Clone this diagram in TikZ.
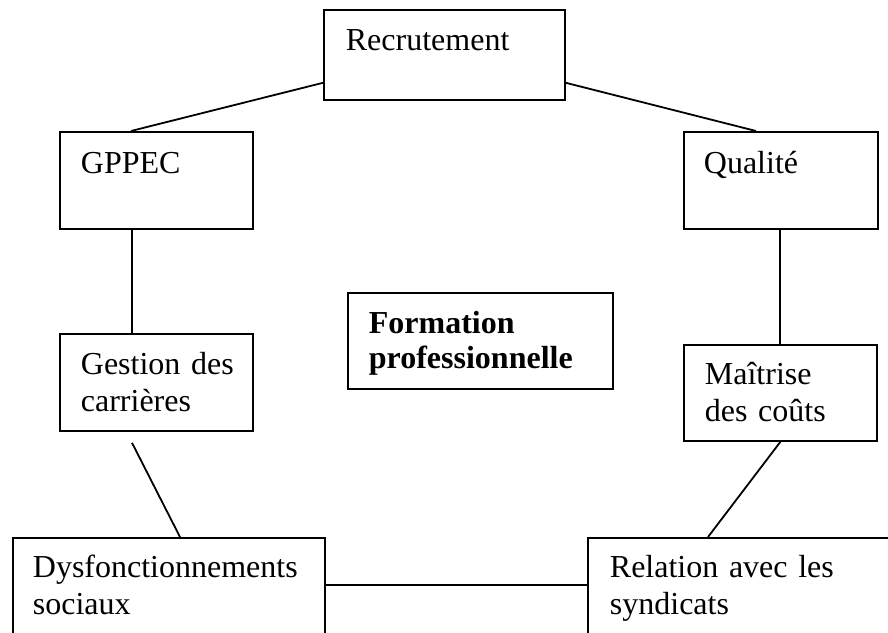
\documentclass[tikz,border=0pt]{standalone}
\usepackage{fontspec}
\setmainfont{Liberation Serif}
\usetikzlibrary{positioning}

\newcommand{\lignes}[1]{\begin{tabular}[t]{@{}l@{}}#1\end{tabular}}

\tikzset{
  box/.style={draw,line width=1.8pt,anchor=north west,inner ysep=0pt,
    font=\fontsize{32}{36.5}\selectfont},
  link/.style={line width=1.8pt}
}

\begin{document}
\begin{tikzpicture}[x=1pt,y=-1pt]
\useasboundingbox (0,0) rectangle (888,632);

\node[box,inner xsep=22pt,text width=197pt,text height=41pt,text depth=49pt] (recru) at (323,9) {\lignes{Recrutement}};
\node[box,inner xsep=21pt,text width=151pt,text height=42pt,text depth=55pt] (gppec) at (59,131) {\lignes{GPPEC}};
\node[box,inner xsep=20pt,text width=154pt,text height=42pt,text depth=55pt] (qual) at (683,131) {\lignes{Qualité}};
\node[box,inner xsep=21pt,text width=223pt,text height=41pt,text depth=55pt,
  font=\fontsize{32}{35}\selectfont\bfseries] (form) at (347,292) {\lignes{Formation\\professionnelle}};
\node[box,inner xsep=21pt,text width=151pt,text height=41pt,text depth=56pt] (gest) at (59,333) {\lignes{Gestion des\\carrières}};
\node[box,inner xsep=21pt,text width=151pt,text height=40pt,text depth=56pt] (maitr) at (683,344) {\lignes{Maîtrise\\des coûts}};
\node[box,inner xsep=20pt,text width=272pt,text height=40pt,text depth=70pt] (dysf) at (12,537) {\lignes{Dysfonctionnements\\sociaux}};
\node[box,inner xsep=22pt,text width=274pt,text height=40pt,text depth=70pt] (rel) at (587,537) {\lignes{Relation avec les\\syndicats}};

% liens
\draw[link] ([yshift=18pt]recru.south west) -- ([xshift=72pt]gppec.north west);
\draw[link] ([yshift=18pt]recru.south east) -- ([xshift=73pt]qual.north west);
\draw[link] ([xshift=73pt]gppec.south west) -- ([xshift=73pt]gest.north west);
\draw[link] ([xshift=97pt]qual.south west) -- ([xshift=97pt]maitr.north west);
\coordinate (gestbas) at ([shift={(73pt,-11pt)}]gest.south west);
\draw[link] (gestbas) -- ([xshift=168pt]dysf.north west);
\draw[link] (maitr.south) -- ([xshift=121pt]rel.north west);
\draw[link] ([yshift=-48pt]dysf.north east) -- ([yshift=-48pt]rel.north west);

\end{tikzpicture}
\end{document}
